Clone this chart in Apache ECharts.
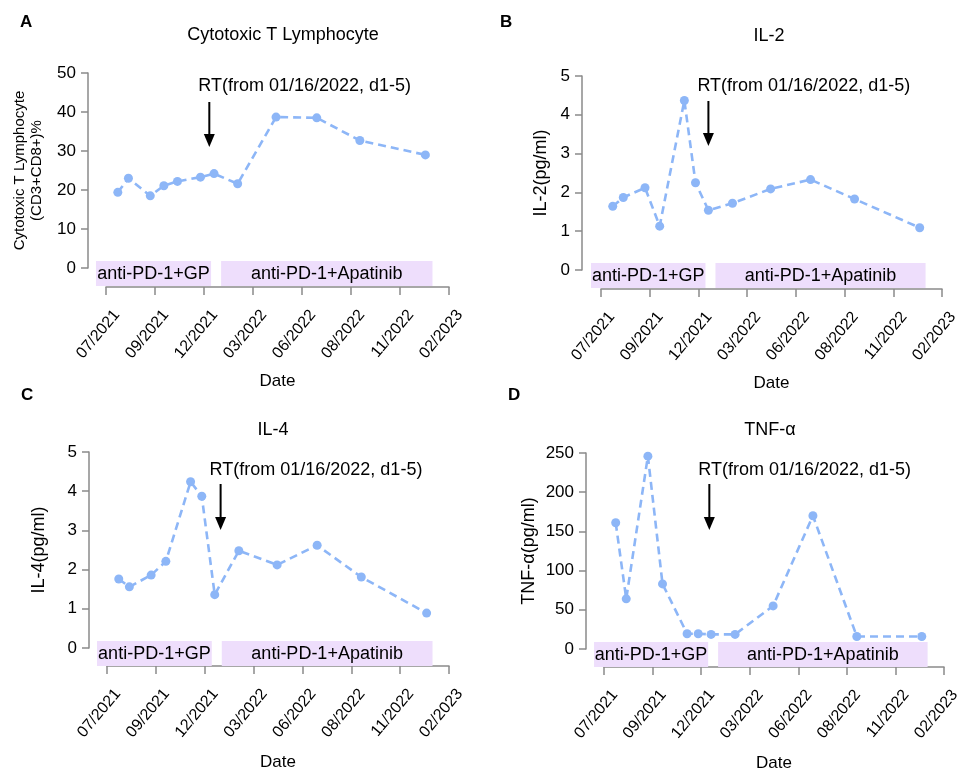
<!DOCTYPE html>
<html>
<head>
<meta charset="utf-8">
<script src="https://cdn.jsdelivr.net/npm/echarts@6/dist/echarts.min.js"></script>
<style>
html,body{margin:0;padding:0;background:#fff;}
#c{width:957px;height:769px;}
</style>
</head>
<body>
<div id="c"></div>
<script>
// ---------------- data ----------------
const tickLabels = ['07/2021','09/2021','12/2021','03/2022','06/2022','08/2022','11/2022','02/2023'];
const axisOrigin = '2021-07-08';
const tickStepDays = 83;

const datesA = ['2021-07-28','2021-08-15','2021-09-21','2021-10-14','2021-11-06','2021-12-15','2022-01-07','2022-02-16','2022-04-22','2022-06-30','2022-09-11','2022-12-31'];
const valuesA = [19.4, 23.0, 18.5, 21.1, 22.2, 23.3, 24.2, 21.6, 38.7, 38.5, 32.7, 29.0];

const datesBCD = ['2021-07-28','2021-08-15','2021-09-21','2021-10-16','2021-11-27','2021-12-16','2022-01-07','2022-02-17','2022-04-23','2022-06-30','2022-09-13','2023-01-02'];
const valuesB = [1.64, 1.87, 2.12, 1.13, 4.37, 2.25, 1.54, 1.72, 2.09, 2.33, 1.83, 1.09];
const valuesC = [1.76, 1.56, 1.86, 2.21, 4.24, 3.87, 1.36, 2.48, 2.12, 2.62, 1.81, 0.89];
const valuesD = [161, 64, 246, 83, 19.5, 19.5, 18.6, 18.6, 55, 170, 16, 16];

const phaseNames = ['anti-PD-1+GP', 'anti-PD-1+Apatinib'];
const phaseStart = ['2021-06-21', '2022-01-19'];
const phaseEnd = ['2022-01-02', '2023-01-12'];

const rtLabel = 'RT(from 01/16/2022, d1-5)';
const arrowDates = ['2021-12-30', '2022-01-07', '2022-01-17', '2022-01-04'];

const panelLetters = ['A', 'B', 'C', 'D'];
const panelTitles = ['Cytotoxic T Lymphocyte', 'IL-2', 'IL-4', 'TNF-α'];
const yNames = ['Cytotoxic T Lymphocyte\n(CD3+CD8+)%', 'IL-2(pg/ml)', 'IL-4(pg/ml)', 'TNF-α(pg/ml)'];
const yMax = [50, 5, 5, 250];
const yStep = [10, 1, 1, 50];
const xName = 'Date';

// ---------------- helpers ----------------
function dayNum(s) {
  const p = s.split('-').map(Number), o = axisOrigin.split('-').map(Number);
  return Math.round((Date.UTC(p[0], p[1]-1, p[2]) - Date.UTC(o[0], o[1]-1, o[2])) / 86400000);
}
const seriesDates = [datesA, datesBCD, datesBCD, datesBCD];
const seriesValues = [valuesA, valuesB, valuesC, valuesD];

// ---------------- layout ----------------
const layout = [
  {left:106, top:73,  width:343, height:195, yOff:18, xOff:19, yGap:43, xGap:86, title:[278,21], letter:[15,9],  txt:13, aTop:29, aTip:74, yNameSize:15},
  {left:601, top:76,  width:341, height:194, yOff:19, xOff:19, yGap:31, xGap:86, title:[764,22], letter:[495,9],  txt:10, aTop:25, aTip:70, yNameSize:18},
  {left:107, top:452, width:342, height:196, yOff:18, xOff:18, yGap:40, xGap:88, title:[268,416], letter:[16,382], txt:18, aTop:32, aTip:78, yNameSize:18},
  {left:604, top:453, width:340, height:196, yOff:18, xOff:18, yGap:47, xGap:88, title:[765,416], letter:[503,382], txt:17, aTop:31, aTip:77, yNameSize:18}
];

const FONT = 'Liberation Sans, Arial, sans-serif';
const AXIS_COLOR = '#8a8a8a';
const LINE_COLOR = '#8db6f7';
const PHASE_COLOR = '#eedefc';

const grids = [], xAxes = [], yAxes = [], series = [], titles = [];

layout.forEach((L, i) => {
  grids.push({left:L.left, top:L.top, width:L.width, height:L.height, containLabel:false, outerBoundsMode:'none'});
  titles.push({text: panelTitles[i], left: L.title[0], top: L.title[1], textAlign:'center',
    textStyle:{fontSize:18, fontWeight:'normal', color:'#000', fontFamily:FONT}});
  titles.push({text: panelLetters[i], left: L.letter[0], top: L.letter[1],
    textStyle:{fontSize:17, fontWeight:'bold', color:'#000', fontFamily:FONT}});

  xAxes.push({
    type:'value', gridIndex:i, min:0, max:tickStepDays*(tickLabels.length-1), interval:tickStepDays,
    offset:L.xOff,
    axisLine:{show:true, onZero:false, lineStyle:{color:AXIS_COLOR, width:1.5}},
    axisTick:{show:true, length:8, lineStyle:{color:AXIS_COLOR, width:1.5}},
    splitLine:{show:false},
    axisLabel:{rotate:50, margin:16, fontSize:16, color:'#000', fontFamily:FONT,
      verticalAlign:'top', padding:[6,0,0,0], hideOverlap:false,
      formatter: v => tickLabels[Math.round(v / tickStepDays)] || ''},
    name:xName, nameLocation:'middle', nameGap:L.xGap,
    nameTextStyle:{fontSize:17, color:'#000', fontFamily:FONT}
  });
  yAxes.push({
    type:'value', gridIndex:i, min:0, max:yMax[i], interval:yStep[i],
    offset:L.yOff,
    axisLine:{show:true, onZero:false, lineStyle:{color:AXIS_COLOR, width:1.5}},
    axisTick:{show:true, length:7, lineStyle:{color:AXIS_COLOR, width:1.5}},
    splitLine:{show:false},
    axisLabel:{margin:12, fontSize:17, color:'#000', fontFamily:FONT},
    name:yNames[i], nameLocation:'middle', nameGap:L.yGap,
    nameTextStyle:{fontSize:L.yNameSize, color:'#000', fontFamily:FONT, lineHeight:L.yNameSize+2}
  });

  // treatment phases
  series.push({
    type:'custom', xAxisIndex:i, yAxisIndex:i, clip:false, silent:true, z:1,
    data: phaseNames.map((n, k) => [dayNum(phaseStart[k]), dayNum(phaseEnd[k]), n]),
    encode:{x:[0,1]},
    renderItem: (params, api) => {
      const a = api.coord([api.value(0), 0]);
      const b = api.coord([api.value(1), 0]);
      const top = a[1] - 7, h = 25;
      return {type:'group', children:[
        {type:'rect', shape:{x:a[0], y:top, width:b[0]-a[0], height:h}, style:{fill:PHASE_COLOR}},
        {type:'text', style:{text:phaseNames[params.dataIndex], x:(a[0]+b[0])/2, y:top+h/2+1,
          align:'center', verticalAlign:'middle', fontSize:18, fill:'#000', fontFamily:FONT}}
      ]};
    }
  });

  // RT arrow
  series.push({
    type:'custom', xAxisIndex:i, yAxisIndex:i, clip:false, silent:true, z:5,
    data:[[dayNum(arrowDates[i]), yMax[i]]],
    renderItem: (params, api) => {
      const p = api.coord([api.value(0), api.value(1)]);
      const x = p[0], y0 = p[1];
      const tip = y0 + L.aTip, head = 13, hw = 5.5;
      return {type:'group', children:[
        {type:'line', shape:{x1:x, y1:y0+L.aTop, x2:x, y2:tip-head+1}, style:{stroke:'#000', lineWidth:2}},
        {type:'polygon', shape:{points:[[x-hw, tip-head],[x+hw, tip-head],[x, tip]]}, style:{fill:'#000'}},
        {type:'text', style:{text:rtLabel, x:x-11, y:y0+L.txt, align:'left', verticalAlign:'middle',
          fontSize:18, fill:'#000', fontFamily:FONT}}
      ]};
    }
  });

  // data line
  series.push({
    type:'line', xAxisIndex:i, yAxisIndex:i, z:3,
    data: seriesDates[i].map((d, k) => [dayNum(d), seriesValues[i][k]]),
    symbol:'circle', symbolSize:9, showSymbol:true,
    lineStyle:{color:LINE_COLOR, width:2.6, type:[8,5]},
    itemStyle:{color:LINE_COLOR},
    animation:false
  });
});

const chart = echarts.init(document.getElementById('c'), null, {renderer:'canvas'});
chart.setOption({
  backgroundColor:'#fff',
  animation:false,
  textStyle:{fontFamily:FONT},
  title:titles, grid:grids, xAxis:xAxes, yAxis:yAxes, series:series
});
</script>
</body>
</html>
